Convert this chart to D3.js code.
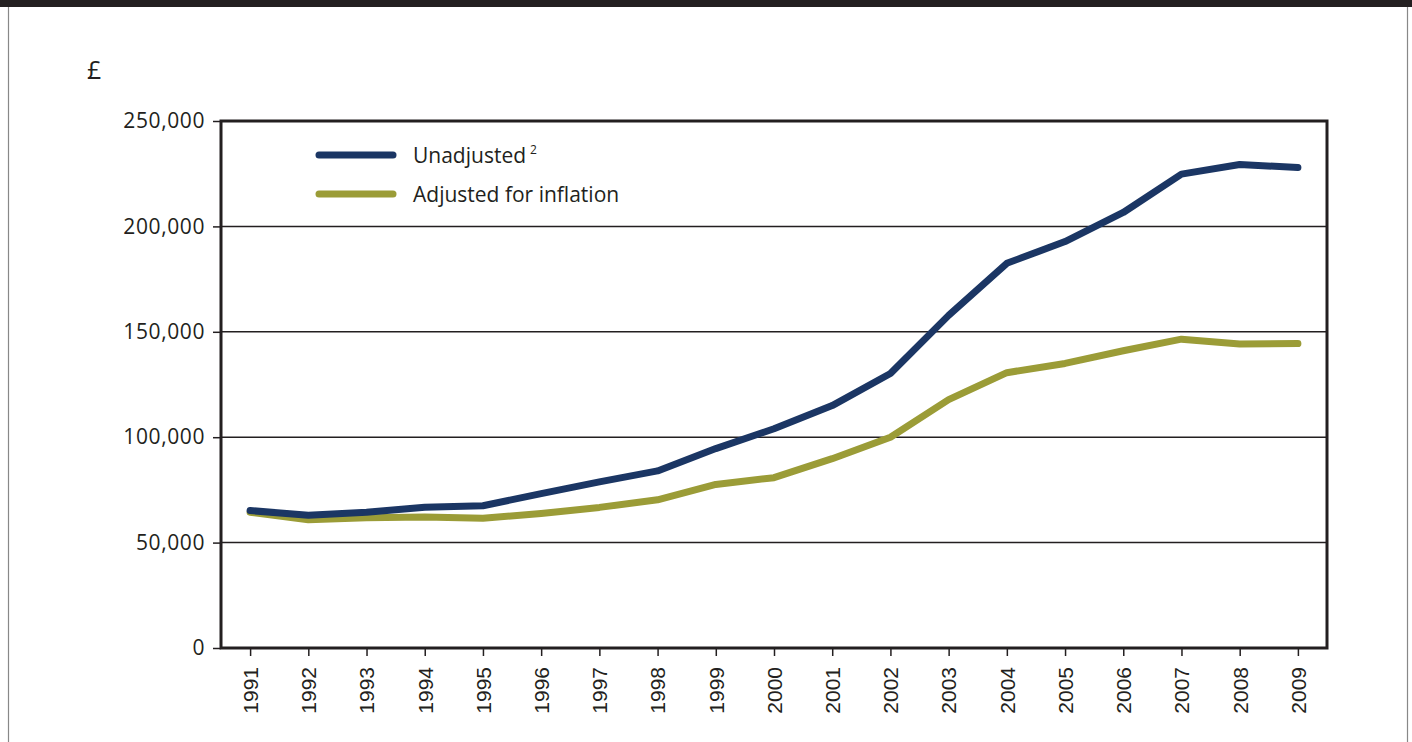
<!DOCTYPE html>
<html>
<head>
<meta charset="utf-8">
<script src="https://cdn.jsdelivr.net/npm/d3@7"></script>
<style>
  html, body { margin: 0; padding: 0; background: #fff; }
  svg { display: block; }
</style>
</head>
<body>
<svg id="chart" width="1412" height="742"></svg>
<script>
// Average house price, £, 1991–2009
const years = ["1991","1992","1993","1994","1995","1996","1997","1998","1999","2000",
               "2001","2002","2003","2004","2005","2006","2007","2008","2009"];
const unadjusted = [65200, 63000, 64400, 66800, 67500, 73200, 78800, 84000, 94600, 104000,
                    115000, 130200, 157800, 182500, 192800, 206600, 224800, 229400, 227900];
const adjusted   = [64400, 60800, 61800, 62200, 61500, 63800, 66700, 70300, 77600, 80800,
                    89800, 100000, 117800, 130600, 135000, 141000, 146500, 144200, 144400];
const yTicks = [0, 50000, 100000, 150000, 200000, 250000];
const seriesNames = ["Unadjusted", "Adjusted for inflation"];
const seriesColors = ["#1b3664", "#9b9c37"];

const svg = d3.select("#chart");
const W = 1412, H = 742;
const ink = "#231f20";

// page frame: heavy top rule and thin side rules
svg.append("rect").attr("x", 0).attr("y", 0).attr("width", W).attr("height", 7).attr("fill", ink);
svg.append("line").attr("x1", 8.5).attr("x2", 8.5).attr("y1", 7).attr("y2", H)
   .attr("stroke", "#888").attr("stroke-width", 1.2);
svg.append("line").attr("x1", 1407.5).attr("x2", 1407.5).attr("y1", 7).attr("y2", H)
   .attr("stroke", "#888").attr("stroke-width", 1.2);

const plot = { left: 221, top: 121, right: 1327, bottom: 648 };

const x = d3.scalePoint().domain(years).range([plot.left, plot.right]).padding(0.5);
const y = d3.scaleLinear().domain([0, 250000]).range([plot.bottom, plot.top]);

// unit label
svg.append("text").attr("x", 87).attr("y", 79)
   .attr("font-family", "'Open Sans', sans-serif").attr("font-size", 25)
   .attr("fill", ink).text("£");

// gridlines
svg.append("g").selectAll("line").data(yTicks.filter(d => d > 0 && d < 250000)).join("line")
   .attr("x1", plot.left).attr("x2", plot.right)
   .attr("y1", d => y(d)).attr("y2", d => y(d))
   .attr("stroke", ink).attr("stroke-width", 1.5);

// y axis
const yAxis = svg.append("g").attr("transform", `translate(${plot.left},0)`)
  .call(d3.axisLeft(y).tickValues(yTicks).tickSize(8).tickPadding(8)
        .tickFormat(d3.format(",")));
yAxis.select(".domain").remove();
yAxis.selectAll("line").attr("stroke", ink).attr("stroke-width", 1.5);
yAxis.selectAll("text").attr("font-family", "'Open Sans', sans-serif")
     .attr("font-size", 21).attr("letter-spacing", 0.6).attr("fill", ink);

// x axis
const xAxis = svg.append("g").attr("transform", `translate(0,${plot.bottom})`)
  .call(d3.axisBottom(x).tickSize(8).tickPadding(0));
xAxis.select(".domain").remove();
xAxis.selectAll("line").attr("stroke", ink).attr("stroke-width", 1.5);
xAxis.selectAll("text")
  .attr("font-family", "'Liberation Sans', Arial, sans-serif")
  .attr("font-size", 21).attr("fill", ink)
  .attr("text-anchor", "end")
  .attr("transform", "rotate(-90)")
  .attr("x", -19).attr("y", 0).attr("dy", "0.35em");

// plot frame
svg.append("rect")
   .attr("x", plot.left).attr("y", plot.top)
   .attr("width", plot.right - plot.left).attr("height", plot.bottom - plot.top)
   .attr("fill", "none").attr("stroke", ink).attr("stroke-width", 3);

// series lines (adjusted drawn first so unadjusted sits on top)
const line = d3.line().x((d, i) => x(years[i])).y(d => y(d));
[[adjusted, seriesColors[1]], [unadjusted, seriesColors[0]]].forEach(([vals, color]) => {
  svg.append("path").datum(vals)
     .attr("d", line)
     .attr("fill", "none")
     .attr("stroke", color)
     .attr("stroke-width", 7)
     .attr("stroke-linejoin", "round")
     .attr("stroke-linecap", "round");
});

// legend
const legend = svg.append("g");
seriesNames.forEach((name, i) => {
  const ly = 155 + i * 39;
  legend.append("line").attr("x1", 319).attr("x2", 393).attr("y1", ly).attr("y2", ly)
        .attr("stroke", seriesColors[i]).attr("stroke-width", 7).attr("stroke-linecap", "round");
  const t = legend.append("text").attr("x", 413).attr("y", ly + 8)
        .attr("font-family", "'Open Sans', sans-serif").attr("font-size", 21)
        .attr("fill", ink).text(name);
  if (i === 0) {
    t.append("tspan").attr("dx", 4).attr("dy", -9).attr("font-size", 12).text("2");
  }
});
</script>
</body>
</html>
